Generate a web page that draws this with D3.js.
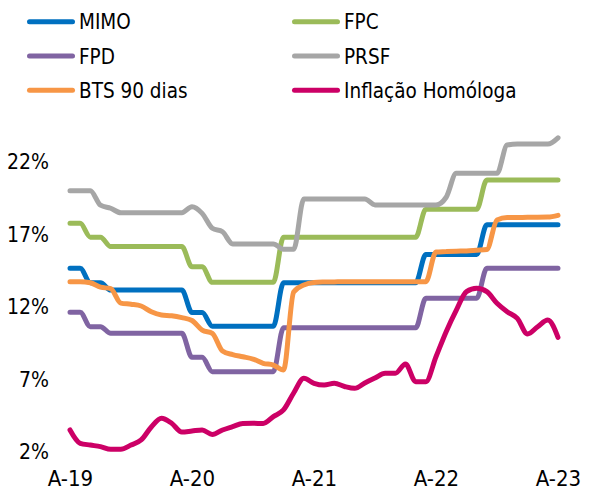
<!DOCTYPE html>
<html>
<head>
<meta charset="utf-8">
<script src="https://cdn.jsdelivr.net/npm/d3@7"></script>
<style>
  html, body { margin: 0; padding: 0; background: #fff; }
  svg { display: block; }
  text { font-family: "DejaVu Sans Condensed", "DejaVu Sans", sans-serif; font-stretch: condensed; fill: #000; }
</style>
</head>
<body>
<svg id="chart" width="589" height="491"></svg>
<script>
const months = [
  "2019-04","2019-05","2019-06","2019-07","2019-08","2019-09","2019-10","2019-11","2019-12",
  "2020-01","2020-02","2020-03","2020-04","2020-05","2020-06","2020-07","2020-08","2020-09","2020-10","2020-11","2020-12",
  "2021-01","2021-02","2021-03","2021-04","2021-05","2021-06","2021-07","2021-08","2021-09","2021-10","2021-11","2021-12",
  "2022-01","2022-02","2022-03","2022-04","2022-05","2022-06","2022-07","2022-08","2022-09","2022-10","2022-11","2022-12",
  "2023-01","2023-02","2023-03","2023-04"
];
const xTickMonths = ["2019-04","2020-04","2021-04","2022-04","2023-04"];
const xTickLabels = ["A-19","A-20","A-21","A-22","A-23"];
const yTicks = [2, 7, 12, 17, 22];

const mimo = [14.6,14.6,13.6,13.6,13.1,13.1,13.1,13.1,13.1,13.1,13.1,13.1,
  11.55,11.55,10.6,10.6,10.6,10.6,10.6,10.6,10.6,
  13.6,13.6,13.6,13.6,13.6,13.6,13.6,13.6,13.6,13.6,13.6,13.6,13.6,13.6,
  15.55,15.55,15.55,15.55,15.55,15.55,
  17.6,17.6,17.6,17.6,17.6,17.6,17.6,17.6];
const fpc = [17.7,17.7,16.75,16.75,16.1,16.1,16.1,16.1,16.1,16.1,16.1,16.1,
  14.7,14.7,13.63,13.63,13.63,13.63,13.63,13.63,13.63,
  16.74,16.74,16.74,16.74,16.74,16.74,16.74,16.74,16.74,16.74,16.74,16.74,16.74,16.74,
  18.67,18.67,18.67,18.67,18.67,18.67,
  20.69,20.69,20.69,20.69,20.69,20.69,20.69,20.69];
const fpd = [11.57,11.57,10.57,10.57,10.12,10.12,10.12,10.12,10.12,10.12,10.12,10.12,
  8.46,8.46,7.47,7.47,7.47,7.47,7.47,7.47,7.47,
  10.5,10.5,10.5,10.5,10.5,10.5,10.5,10.5,10.5,10.5,10.5,10.5,10.5,10.5,
  12.53,12.53,12.53,12.53,12.53,12.53,
  14.6,14.6,14.6,14.6,14.6,14.6,14.6,14.6];
const prsf = [19.95,19.95,19.95,18.95,18.74,18.43,18.43,18.43,18.43,18.43,18.43,18.43,
  18.85,18.39,17.36,17.12,16.28,16.28,16.28,16.28,16.28,
  15.91,15.91,19.38,19.38,19.38,19.38,19.38,19.38,19.38,
  18.97,18.97,18.97,18.97,18.97,18.97,18.97,
  19.5,21.15,21.15,21.15,21.15,21.15,
  23.1,23.17,23.17,23.17,23.17,23.6];
const bts = [13.68,13.68,13.6,13.3,13.2,12.2,12.12,12.0,11.6,11.38,11.33,11.2,
  11.0,10.34,10.12,8.9,8.65,8.5,8.34,8.05,7.93,
  7.59,12.97,13.45,13.62,13.65,13.66,13.67,13.67,13.67,13.68,13.68,13.68,13.68,13.68,
  13.68,15.72,15.75,15.78,15.8,15.85,
  15.9,17.93,18.1,18.1,18.12,18.12,18.13,18.25];
const inflacao = [3.45,2.53,2.41,2.30,2.12,2.12,2.41,2.76,3.66,4.26,3.91,3.31,
  3.38,3.45,3.14,3.45,3.68,3.90,3.91,3.90,4.37,
  4.83,6.0,7.01,6.67,6.55,6.67,6.45,6.32,6.69,7.03,7.36,7.36,8.0,6.78,6.78,
  8.5,10.23,11.72,12.99,13.22,12.99,12.19,11.61,11.15,10.07,10.57,11.03,9.84];

const seriesNames = ["MIMO","FPC","FPD","PRSF","BTS 90 dias","Inflação Homóloga"];
const seriesValues = [mimo, fpc, fpd, prsf, bts, inflacao];
const seriesColors = ["#0070C0","#9BBB59","#8064A2","#A6A6A6","#F79646","#CC0066"];

const svg = d3.select("#chart");

const x = d3.scalePoint().domain(months).range([70, 558]);
const y = d3.scaleLinear().domain([2, 22]).range([451, 161]);

// Y axis
const yAxis = svg.append("g")
  .attr("transform", "translate(49,0)")
  .call(d3.axisLeft(y).tickValues(yTicks).tickSize(0).tickPadding(0).tickFormat(d => d + "%"));
yAxis.select(".domain").remove();
yAxis.selectAll("text").attr("font-size", 21).attr("dy", "0.36em")
  .style("font-family", '"DejaVu Sans Condensed", "DejaVu Sans", sans-serif');

// X axis
const xAxis = svg.append("g")
  .attr("transform", "translate(0,470)")
  .call(d3.axisBottom(x).tickValues(xTickMonths).tickSize(0).tickPadding(0)
    .tickFormat((d, i) => xTickLabels[i]));
xAxis.select(".domain").remove();
xAxis.selectAll("text").attr("font-size", 22).attr("dy", "0.73em")
  .style("font-family", '"DejaVu Sans Condensed", "DejaVu Sans", sans-serif');

// Lines
const line = d3.line()
  .x((d, i) => x(months[i]))
  .y(d => y(d))
  .curve(d3.curveMonotoneX);

svg.append("g").selectAll("path")
  .data(seriesValues)
  .join("path")
  .attr("d", d => line(d))
  .attr("fill", "none")
  .attr("stroke", (d, i) => seriesColors[i])
  .attr("stroke-width", 5)
  .attr("stroke-linejoin", "round")
  .attr("stroke-linecap", "round");

// Legend
const legendCols = [29.5, 294.5];
const legendRows = [21.7, 56, 90.3];
const legend = svg.append("g");
seriesNames.forEach((name, i) => {
  const cx = legendCols[i % 2];
  const cy = legendRows[Math.floor(i / 2)];
  legend.append("line")
    .attr("x1", cx).attr("x2", cx + 43)
    .attr("y1", cy).attr("y2", cy)
    .attr("stroke", seriesColors[i])
    .attr("stroke-width", 5)
    .attr("stroke-linecap", "round");
  legend.append("text")
    .attr("x", cx + 49.5)
    .attr("y", cy + 7.6)
    .attr("font-size", 20.5)
    .text(name);
});
</script>
</body>
</html>
